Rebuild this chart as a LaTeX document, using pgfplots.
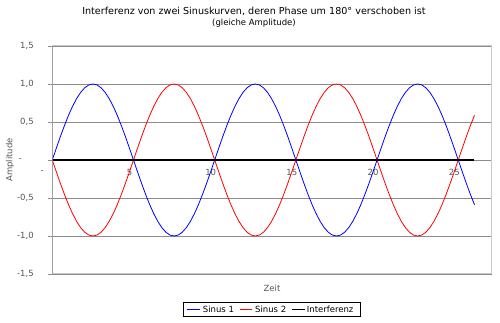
\documentclass[border=0pt]{standalone}
\usepackage{fontspec}
\setmainfont{DejaVu Sans}
\usepackage{pgfplots}
\pgfplotsset{compat=1.18}
\usepackage{pgfplotstable}
\definecolor{tickgray}{RGB}{85,85,85}
\definecolor{gridgray}{RGB}{140,140,140}
\definecolor{boxgray}{RGB}{200,200,200}
\definecolor{legblue}{RGB}{0,0,255}
\definecolor{legred}{RGB}{255,0,0}
\pgfplotstableread{
x a b c
0 0 0 0
0.25 0.1564 -0.1564 0
0.5 0.3090 -0.3090 0
0.75 0.4540 -0.4540 0
1 0.5878 -0.5878 0
1.25 0.7071 -0.7071 0
1.5 0.8090 -0.8090 0
1.75 0.8910 -0.8910 0
2 0.9511 -0.9511 0
2.25 0.9877 -0.9877 0
2.5 1 -1 0
2.75 0.9877 -0.9877 0
3 0.9511 -0.9511 0
3.25 0.8910 -0.8910 0
3.5 0.8090 -0.8090 0
3.75 0.7071 -0.7071 0
4 0.5878 -0.5878 0
4.25 0.4540 -0.4540 0
4.5 0.3090 -0.3090 0
4.75 0.1564 -0.1564 0
5 0 0 0
5.25 -0.1564 0.1564 0
5.5 -0.3090 0.3090 0
5.75 -0.4540 0.4540 0
6 -0.5878 0.5878 0
6.25 -0.7071 0.7071 0
6.5 -0.8090 0.8090 0
6.75 -0.8910 0.8910 0
7 -0.9511 0.9511 0
7.25 -0.9877 0.9877 0
7.5 -1 1 0
7.75 -0.9877 0.9877 0
8 -0.9511 0.9511 0
8.25 -0.8910 0.8910 0
8.5 -0.8090 0.8090 0
8.75 -0.7071 0.7071 0
9 -0.5878 0.5878 0
9.25 -0.4540 0.4540 0
9.5 -0.3090 0.3090 0
9.75 -0.1564 0.1564 0
10 0 0 0
10.25 0.1564 -0.1564 0
10.5 0.3090 -0.3090 0
10.75 0.4540 -0.4540 0
11 0.5878 -0.5878 0
11.25 0.7071 -0.7071 0
11.5 0.8090 -0.8090 0
11.75 0.8910 -0.8910 0
12 0.9511 -0.9511 0
12.25 0.9877 -0.9877 0
12.5 1 -1 0
12.75 0.9877 -0.9877 0
13 0.9511 -0.9511 0
13.25 0.8910 -0.8910 0
13.5 0.8090 -0.8090 0
13.75 0.7071 -0.7071 0
14 0.5878 -0.5878 0
14.25 0.4540 -0.4540 0
14.5 0.3090 -0.3090 0
14.75 0.1564 -0.1564 0
15 0 0 0
15.25 -0.1564 0.1564 0
15.5 -0.3090 0.3090 0
15.75 -0.4540 0.4540 0
16 -0.5878 0.5878 0
16.25 -0.7071 0.7071 0
16.5 -0.8090 0.8090 0
16.75 -0.8910 0.8910 0
17 -0.9511 0.9511 0
17.25 -0.9877 0.9877 0
17.5 -1 1 0
17.75 -0.9877 0.9877 0
18 -0.9511 0.9511 0
18.25 -0.8910 0.8910 0
18.5 -0.8090 0.8090 0
18.75 -0.7071 0.7071 0
19 -0.5878 0.5878 0
19.25 -0.4540 0.4540 0
19.5 -0.3090 0.3090 0
19.75 -0.1564 0.1564 0
20 0 0 0
20.25 0.1564 -0.1564 0
20.5 0.3090 -0.3090 0
20.75 0.4540 -0.4540 0
21 0.5878 -0.5878 0
21.25 0.7071 -0.7071 0
21.5 0.8090 -0.8090 0
21.75 0.8910 -0.8910 0
22 0.9511 -0.9511 0
22.25 0.9877 -0.9877 0
22.5 1 -1 0
22.75 0.9877 -0.9877 0
23 0.9511 -0.9511 0
23.25 0.8910 -0.8910 0
23.5 0.8090 -0.8090 0
23.75 0.7071 -0.7071 0
24 0.5878 -0.5878 0
24.25 0.4540 -0.4540 0
24.5 0.3090 -0.3090 0
24.75 0.1564 -0.1564 0
25 0 0 0
25.25 -0.1564 0.1564 0
25.5 -0.3090 0.3090 0
25.75 -0.4540 0.4540 0
26 -0.5878 0.5878 0
}\data

\begin{document}
\begin{tikzpicture}
\useasboundingbox (-52.3pt,-49pt) rectangle (447.7pt,274pt);
\begin{axis}[
  at={(0pt,0pt)}, anchor=south west,
  scale only axis, width=439.4pt, height=228pt,
  xmin=0, xmax=27.06, ymin=-1.5, ymax=1.5,
  xtick={0,5,10,15,20,25},
  xticklabels={\makebox[15.5pt][l]{-},5,10,15,20,25},
  ytick={-1.5,-1,-0.5,0,0.5,1,1.5},
  yticklabels={{-1,5},{-1,0},{-0,5},{\makebox[15pt][l]{-}},{0,5},{1,0},{1,5}},
  ticklabel style={font=\fontsize{8.5}{10}\selectfont, text=tickgray},
  xticklabel style={anchor=center, yshift=106pt, xshift=-4pt},
  yticklabel style={anchor=east, xshift=-11pt},
  xtick style={draw=none},
  ytick pos=left, tick align=outside,
  ytick style={gridgray, line width=0.8pt},
  major tick length=4pt,
  ymajorgrids, grid style={gridgray, line width=0.9pt},
  axis line style={boxgray, line width=1pt},
  xlabel={Zeit}, ylabel={Amplitude},
  label style={font=\fontsize{8.5}{10}\selectfont, text=tickgray},
  xlabel style={at={(axis description cs:0.5,-0.0614)}, anchor=center},
  ylabel style={at={(axis description cs:-0.0961,0.5)}, anchor=center},
  title={Interferenz von zwei Sinuskurven, deren Phase um 180° verschoben ist\\{\fontsize{8.5}{10}\selectfont (gleiche Amplitude)}},
  title style={at={(axis description cs:0.459,1.1)}, anchor=center, align=center, font=\fontsize{9.6}{10.8}\selectfont},
]
\addplot[draw=blue, line width=0.8pt] table[x=x, y=a] {\data};
\addplot[draw=red, line width=0.8pt] table[x=x, y=b] {\data};
\addplot[draw=black, line width=1.8pt] table[x=x, y=c] {\data};
\draw[gridgray, line width=1pt] (rel axis cs:0,0) -- (rel axis cs:0,1);
\end{axis}
% legend (drawn below the plot area)
\draw[black, line width=0.6pt, fill=white] (131pt,-28.3pt) rectangle (308.4pt,-42.7pt);
\draw[draw=legblue, line width=1.4pt] (134.4pt,-35.5pt) -- (147.7pt,-35.5pt);
\node[anchor=west, inner sep=0pt, font=\fontsize{8.5}{10}\selectfont] at (150.4pt,-35.5pt) {Sinus 1};
\draw[draw=legred, line width=1.4pt] (187.7pt,-35.5pt) -- (199.4pt,-35.5pt);
\node[anchor=west, inner sep=0pt, font=\fontsize{8.5}{10}\selectfont] at (202.7pt,-35.5pt) {Sinus 2};
\draw[draw=black, line width=1.8pt] (239.4pt,-35.5pt) -- (252.7pt,-35.5pt);
\node[anchor=west, inner sep=0pt, font=\fontsize{8.5}{10}\selectfont] at (254.4pt,-35.5pt) {Interferenz};
\end{tikzpicture}
\end{document}
